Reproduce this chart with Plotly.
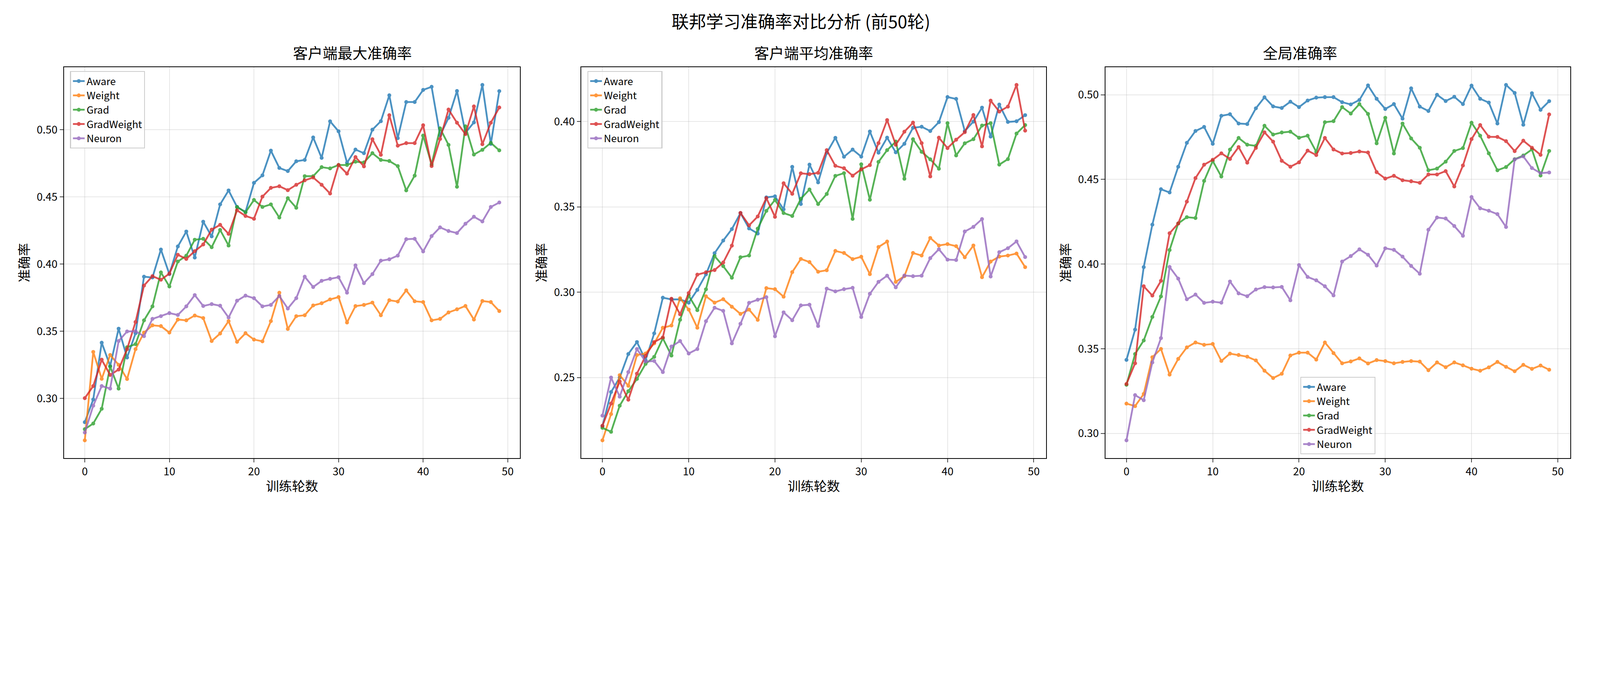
import plotly.graph_objects as go
from plotly.subplots import make_subplots

rounds = list(range(50))
names = ["Aware", "Weight", "Grad", "GradWeight", "Neuron"]
colors = ["#1f77b4", "#ff7f0e", "#2ca02c", "#d62728", "#9467bd"]

# 客户端最大准确率
max_aware = [0.2823, 0.2992, 0.3415, 0.3242, 0.3519, 0.3304, 0.3485, 0.3906, 0.3900, 0.4108,
             0.3925, 0.4131, 0.4242, 0.4048, 0.4315, 0.4206, 0.4444, 0.4548, 0.4425, 0.4388,
             0.4604, 0.4660, 0.4844, 0.4715, 0.4692, 0.4765, 0.4775, 0.4942, 0.4790, 0.5062,
             0.4988, 0.4754, 0.4852, 0.4825, 0.5000, 0.5063, 0.5256, 0.4937, 0.5206, 0.5206,
             0.5296, 0.5319, 0.4958, 0.5088, 0.5288, 0.4977, 0.5054, 0.5333, 0.4894, 0.5287]
max_weight = [0.2688, 0.3346, 0.3146, 0.3323, 0.3250, 0.3144, 0.3367, 0.3490, 0.3544, 0.3538,
              0.3490, 0.3587, 0.3581, 0.3617, 0.3598, 0.3427, 0.3483, 0.3575, 0.3421, 0.3485,
              0.3438, 0.3425, 0.3575, 0.3787, 0.3517, 0.3612, 0.3619, 0.3692, 0.3708, 0.3737,
              0.3754, 0.3565, 0.3687, 0.3696, 0.3713, 0.3619, 0.3731, 0.3721, 0.3804, 0.3723,
              0.3717, 0.3581, 0.3592, 0.3640, 0.3663, 0.3688, 0.3587, 0.3725, 0.3717, 0.3650]
max_grad = [0.2771, 0.2813, 0.2923, 0.3237, 0.3073, 0.3381, 0.3404, 0.3581, 0.3685, 0.3938,
            0.3833, 0.4019, 0.4062, 0.4181, 0.4188, 0.4125, 0.4254, 0.4138, 0.4425, 0.4385,
            0.4477, 0.4425, 0.4444, 0.4346, 0.4490, 0.4419, 0.4654, 0.4654, 0.4721, 0.4712,
            0.4737, 0.4737, 0.4762, 0.4756, 0.4825, 0.4775, 0.4767, 0.4729, 0.4548, 0.4658,
            0.4956, 0.4742, 0.5010, 0.4887, 0.4575, 0.5025, 0.4815, 0.4850, 0.4902, 0.4846]
max_gradweight = [0.3002, 0.3092, 0.3288, 0.3175, 0.3215, 0.3367, 0.3569, 0.3840, 0.3910, 0.3883,
                  0.3929, 0.4069, 0.4038, 0.4096, 0.4146, 0.4256, 0.4292, 0.4225, 0.4400, 0.4358,
                  0.4337, 0.4502, 0.4567, 0.4579, 0.4550, 0.4590, 0.4623, 0.4644, 0.4590, 0.4525,
                  0.4737, 0.4673, 0.4796, 0.4727, 0.4929, 0.4813, 0.5108, 0.4881, 0.4900, 0.4900,
                  0.5033, 0.4729, 0.4931, 0.5150, 0.5052, 0.4967, 0.5173, 0.4892, 0.5052, 0.5165]
max_neuron = [0.2746, 0.2946, 0.3092, 0.3073, 0.3427, 0.3498, 0.3500, 0.3463, 0.3592, 0.3612,
              0.3635, 0.3621, 0.3685, 0.3769, 0.3688, 0.3702, 0.3690, 0.3602, 0.3727, 0.3765,
              0.3746, 0.3685, 0.3696, 0.3762, 0.3669, 0.3746, 0.3906, 0.3829, 0.3875, 0.3890,
              0.3902, 0.3787, 0.3990, 0.3858, 0.3925, 0.4025, 0.4035, 0.4063, 0.4185, 0.4188,
              0.4094, 0.4208, 0.4273, 0.4246, 0.4231, 0.4300, 0.4352, 0.4317, 0.4425, 0.4458]

# 客户端平均准确率
avg_aware = [0.2215, 0.2415, 0.2500, 0.2638, 0.2708, 0.2602, 0.2759, 0.2968, 0.2958, 0.2958,
             0.2939, 0.3014, 0.3105, 0.3229, 0.3303, 0.3370, 0.3464, 0.3374, 0.3344, 0.3556,
             0.3562, 0.3486, 0.3735, 0.3517, 0.3748, 0.3644, 0.3817, 0.3905, 0.3794, 0.3836,
             0.3795, 0.3942, 0.3818, 0.3906, 0.3820, 0.3870, 0.3964, 0.3970, 0.3945, 0.3997,
             0.4144, 0.4133, 0.3945, 0.4000, 0.4082, 0.3912, 0.4100, 0.3998, 0.4002, 0.4038]
avg_weight = [0.2132, 0.2286, 0.2514, 0.2452, 0.2632, 0.2641, 0.2700, 0.2792, 0.2805, 0.2965,
              0.2898, 0.2792, 0.2976, 0.2939, 0.2959, 0.2915, 0.2873, 0.2898, 0.2838, 0.3024,
              0.3018, 0.2974, 0.3118, 0.3195, 0.3177, 0.3120, 0.3129, 0.3242, 0.3230, 0.3194,
              0.3208, 0.3106, 0.3265, 0.3297, 0.3061, 0.3094, 0.3230, 0.3215, 0.3318, 0.3274,
              0.3282, 0.3270, 0.3205, 0.3274, 0.3088, 0.3180, 0.3209, 0.3215, 0.3227, 0.3147]
avg_grad = [0.2205, 0.2182, 0.2335, 0.2420, 0.2492, 0.2580, 0.2621, 0.2730, 0.2629, 0.2839,
            0.2980, 0.2895, 0.3017, 0.3212, 0.3153, 0.3085, 0.3205, 0.3215, 0.3373, 0.3477,
            0.3541, 0.3464, 0.3447, 0.3548, 0.3602, 0.3517, 0.3576, 0.3682, 0.3698, 0.3430,
            0.3750, 0.3542, 0.3764, 0.3833, 0.3883, 0.3665, 0.3897, 0.3823, 0.3779, 0.3724,
            0.3991, 0.3802, 0.3873, 0.3897, 0.3977, 0.3991, 0.3748, 0.3780, 0.3930, 0.3980]
avg_gradweight = [0.2218, 0.2348, 0.2477, 0.2370, 0.2523, 0.2627, 0.2708, 0.2735, 0.2962, 0.2871,
                  0.2995, 0.3103, 0.3117, 0.3130, 0.3174, 0.3273, 0.3465, 0.3392, 0.3444, 0.3552,
                  0.3442, 0.3639, 0.3577, 0.3697, 0.3692, 0.3700, 0.3833, 0.3741, 0.3727, 0.3683,
                  0.3720, 0.3745, 0.3874, 0.4009, 0.3864, 0.3941, 0.3994, 0.3874, 0.3679, 0.3906,
                  0.3845, 0.3894, 0.3938, 0.4039, 0.3855, 0.4123, 0.4059, 0.4088, 0.4215, 0.3947]
avg_neuron = [0.2277, 0.2500, 0.2388, 0.2532, 0.2667, 0.2594, 0.2597, 0.2532, 0.2682, 0.2714,
              0.2641, 0.2667, 0.2830, 0.2909, 0.2891, 0.2700, 0.2815, 0.2938, 0.2956, 0.2971,
              0.2742, 0.2882, 0.2836, 0.2923, 0.2927, 0.2802, 0.3021, 0.3005, 0.3018, 0.3026,
              0.2855, 0.2991, 0.3061, 0.3097, 0.3029, 0.3098, 0.3094, 0.3097, 0.3200, 0.3252,
              0.3191, 0.3189, 0.3356, 0.3383, 0.3429, 0.3092, 0.3235, 0.3258, 0.3298, 0.3206]

# 全局准确率
glob_aware = [0.3434, 0.3613, 0.3982, 0.4233, 0.4442, 0.4423, 0.4575, 0.4716, 0.4786, 0.4810,
              0.4710, 0.4876, 0.4885, 0.4830, 0.4827, 0.4920, 0.4985, 0.4931, 0.4922, 0.4959,
              0.4927, 0.4966, 0.4983, 0.4986, 0.4986, 0.4956, 0.4943, 0.4969, 0.5055, 0.4976,
              0.4916, 0.4945, 0.4859, 0.5038, 0.4930, 0.4904, 0.5000, 0.4963, 0.4988, 0.4945,
              0.5054, 0.4976, 0.4954, 0.4830, 0.5058, 0.5011, 0.4823, 0.5009, 0.4911, 0.4962]
glob_weight = [0.3176, 0.3161, 0.3233, 0.3450, 0.3499, 0.3347, 0.3440, 0.3508, 0.3537, 0.3523,
               0.3528, 0.3428, 0.3471, 0.3463, 0.3453, 0.3431, 0.3370, 0.3327, 0.3352, 0.3460,
               0.3477, 0.3477, 0.3436, 0.3537, 0.3474, 0.3414, 0.3425, 0.3443, 0.3413, 0.3433,
               0.3427, 0.3414, 0.3422, 0.3427, 0.3424, 0.3373, 0.3419, 0.3391, 0.3419, 0.3402,
               0.3382, 0.3370, 0.3390, 0.3422, 0.3393, 0.3367, 0.3405, 0.3381, 0.3401, 0.3376]
glob_grad = [0.3287, 0.3469, 0.3549, 0.3688, 0.3809, 0.4083, 0.4240, 0.4277, 0.4272, 0.4491,
             0.4609, 0.4517, 0.4676, 0.4745, 0.4705, 0.4698, 0.4817, 0.4765, 0.4777, 0.4782,
             0.4746, 0.4758, 0.4663, 0.4838, 0.4844, 0.4927, 0.4889, 0.4945, 0.4887, 0.4713,
             0.4864, 0.4653, 0.4830, 0.4742, 0.4687, 0.4554, 0.4564, 0.4605, 0.4668, 0.4685,
             0.4835, 0.4758, 0.4654, 0.4554, 0.4573, 0.4619, 0.4641, 0.4677, 0.4523, 0.4668]
glob_gradweight = [0.3292, 0.3414, 0.3869, 0.3814, 0.3901, 0.4182, 0.4240, 0.4369, 0.4508, 0.4587,
                   0.4616, 0.4654, 0.4621, 0.4691, 0.4599, 0.4686, 0.4778, 0.4723, 0.4610, 0.4575,
                   0.4601, 0.4670, 0.4644, 0.4745, 0.4677, 0.4653, 0.4656, 0.4665, 0.4659, 0.4543,
                   0.4505, 0.4521, 0.4495, 0.4489, 0.4480, 0.4529, 0.4529, 0.4549, 0.4458, 0.4582,
                   0.4738, 0.4821, 0.4752, 0.4751, 0.4726, 0.4667, 0.4729, 0.4687, 0.4645, 0.4884]
glob_neuron = [0.2959, 0.3226, 0.3196, 0.3419, 0.3563, 0.3983, 0.3914, 0.3792, 0.3820, 0.3771,
               0.3778, 0.3772, 0.3897, 0.3827, 0.3810, 0.3850, 0.3864, 0.3862, 0.3865, 0.3786,
               0.3994, 0.3924, 0.3904, 0.3869, 0.3815, 0.4015, 0.4047, 0.4087, 0.4055, 0.3991,
               0.4093, 0.4084, 0.4044, 0.3989, 0.3943, 0.4203, 0.4275, 0.4269, 0.4225, 0.4167,
               0.4396, 0.4329, 0.4315, 0.4295, 0.4219, 0.4618, 0.4636, 0.4567, 0.4537, 0.4541]

panels = [
    ("客户端最大准确率", [max_aware, max_weight, max_grad, max_gradweight, max_neuron], [0.30, 0.35, 0.40, 0.45, 0.50]),
    ("客户端平均准确率", [avg_aware, avg_weight, avg_grad, avg_gradweight, avg_neuron], [0.25, 0.30, 0.35, 0.40]),
    ("全局准确率", [glob_aware, glob_weight, glob_grad, glob_gradweight, glob_neuron], [0.30, 0.35, 0.40, 0.45, 0.50]),
]

# the page renders at ~1.31x device scale, so size everything in css pixels
S = 1 / 1.314
FONT = "Noto Sans CJK SC"
fig = make_subplots(rows=1, cols=3)
domains = [[0, 0.3027], [0.3434, 0.6521], [0.6913, 1.0]]
legend_names = ["legend", "legend2", "legend3"]

for p, (title, series, ticks) in enumerate(panels):
    col = p + 1
    for name, color, vals in zip(names, colors, series):
        fig.add_trace(go.Scatter(
            x=rounds, y=vals, mode="lines+markers", name=name,
            line=dict(color=color, width=6 * S), marker=dict(color=color, size=13 * S),
            opacity=0.8, legend=legend_names[p]), row=1, col=col)
    allv = [v for s in series for v in s]
    lo, hi = min(allv), max(allv)
    pad = (hi - lo) * 0.05
    fig.update_yaxes(range=[lo - pad, hi + pad], tickvals=ticks, tickformat=".2f",
                     title_text="准确率", row=1, col=col)
    fig.update_xaxes(range=[-2.45, 51.45], tickvals=[0, 10, 20, 30, 40, 50],
                     title_text="训练轮数", domain=domains[p], row=1, col=col)
    fig.add_annotation(text=title, x=sum(domains[p]) / 2, y=1.0, xref="paper", yref="paper",
                       yanchor="bottom", yshift=12 * S, showarrow=False,
                       font=dict(family=FONT, size=50 * S, color="black"))

axis_style = dict(showline=True, linecolor="black", linewidth=3 * S, mirror=True,
                  ticks="outside", ticklen=12 * S, tickwidth=3 * S, showgrid=True,
                  gridcolor="rgba(176,176,176,0.3)", gridwidth=3 * S, zeroline=False,
                  tickfont=dict(size=36 * S), title_font=dict(size=44 * S), title_standoff=12 * S)
fig.update_xaxes(**axis_style)
fig.update_yaxes(**axis_style)

leg_style = dict(bgcolor="rgba(255,255,255,0.8)", bordercolor="#cccccc", borderwidth=3 * S,
                 font=dict(family=FONT, size=34 * S))
fig.update_layout(
    width=round(5368 * S), height=round(1777 * S) - 12,
    template="plotly_white",
    plot_bgcolor="white", paper_bgcolor="white",
    font=dict(family=FONT, color="black"),
    margin=dict(l=205 * S, r=96 * S, t=216 * S, b=230 * S),
    title=dict(text="联邦学习准确率对比分析 (前50轮)", x=0.5, xanchor="center", y=0.975,
               font=dict(family=FONT, size=58 * S, color="black")),
    legend=dict(x=domains[0][0] + 0.004, y=0.99, xanchor="left", yanchor="top", **leg_style),
    legend2=dict(x=domains[1][0] + 0.004, y=0.99, xanchor="left", yanchor="top", **leg_style),
    legend3=dict(x=domains[2][0] + 0.5 * (domains[2][1] - domains[2][0]), y=0.01,
                 xanchor="center", yanchor="bottom", **leg_style),
)

fig.write_html("out.html")
